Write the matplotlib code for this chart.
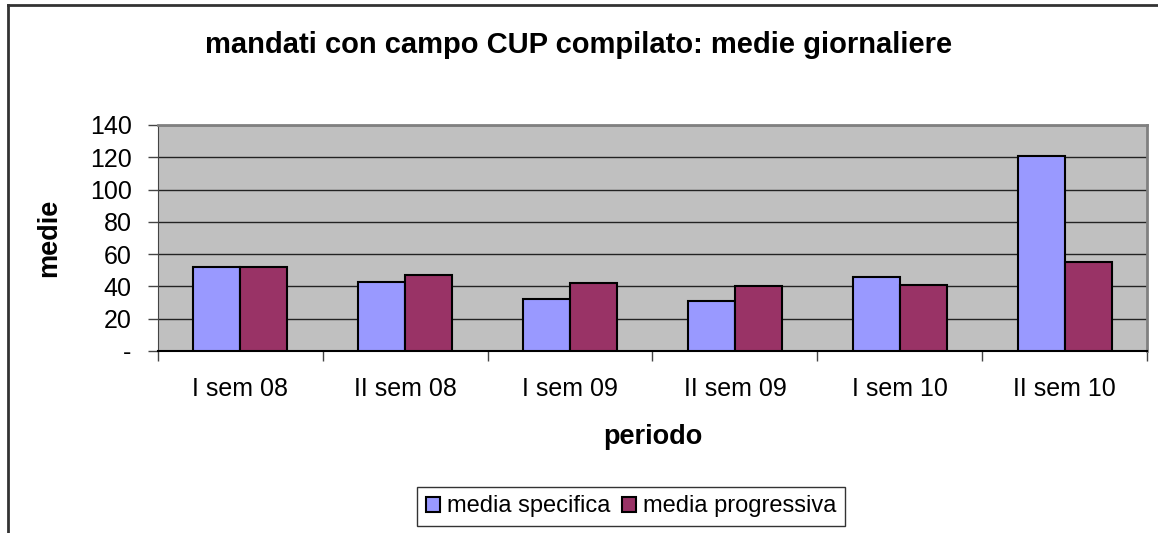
import numpy as np
import matplotlib.pyplot as plt
from matplotlib.lines import Line2D

plt.rcParams['font.family'] = ['Liberation Sans', 'DejaVu Sans']

# data
periodi = ['I sem 08', 'II sem 08', 'I sem 09', 'II sem 09', 'I sem 10', 'II sem 10']
media_specifica = [52, 43, 32, 31, 46, 121]
media_progressiva = [52, 47, 42, 40, 41, 55]
y_ticks = [0, 20, 40, 60, 80, 100, 120, 140]
y_labels = ['-', '20', '40', '60', '80', '100', '120', '140']

fig = plt.figure(figsize=(11.58, 5.33), dpi=100)
ax = fig.add_axes([0.1364, 0.3415, 0.9905 - 0.1364, 0.7655 - 0.3415])

x = np.arange(len(periodi))
w = 0.285
ax.bar(x - w / 2, media_specifica, w, color='#9999FF', edgecolor='black', linewidth=1.5,
       label='media specifica', zorder=3)
ax.bar(x + w / 2, media_progressiva, w, color='#993366', edgecolor='black', linewidth=1.5,
       label='media progressiva', zorder=3)

ax.set_facecolor('#C0C0C0')
ax.set_xlim(-0.5, len(periodi) - 0.5)
ax.set_ylim(0, 140)
ax.set_yticks(y_ticks)
ax.set_yticklabels(y_labels, fontsize=18)
ax.yaxis.grid(True, color='#222222', linewidth=1, zorder=1)
ax.set_axisbelow(True)

ax.set_xticks(x)
ax.set_xticklabels(periodi, fontsize=18)
ax.tick_params(axis='x', length=0, pad=19)
ax.set_xticks(np.arange(len(periodi) + 1) - 0.5, minor=True)
ax.tick_params(axis='x', which='minor', length=7, width=1, color='#444444')
ax.tick_params(axis='y', length=7, width=1, color='#444444', pad=12)

for s in ['top', 'right']:
    ax.spines[s].set_color('#808080')
    ax.spines[s].set_linewidth(2)
ax.spines['left'].set_color('#444444')
ax.spines['bottom'].set_color('black')
ax.spines['bottom'].set_linewidth(1.5)

ax.set_xlabel('periodo', fontsize=19.5, fontweight='bold', labelpad=16)
ax.set_ylabel('medie', fontsize=19.5, fontweight='bold', labelpad=20)

fig.text(0.5, 0.915, 'mandati con campo CUP compilato: medie giornaliere',
         ha='center', va='center', fontsize=21, fontweight='bold')

leg = fig.legend(loc='center', bbox_to_anchor=(0.545, 0.05), ncol=2, fontsize=17,
                 frameon=True, fancybox=False, edgecolor='black', handlelength=0.6,
                 handleheight=0.6, handletextpad=0.3, columnspacing=0.5,
                 borderpad=0.35)
leg.get_frame().set_linewidth(1)

# outer chart border (top and left visible)
fig.add_artist(Line2D([8 / 1158, 1], [1 - 5 / 533, 1 - 5 / 533], color='#333333', lw=2,
                      transform=fig.transFigure))
fig.add_artist(Line2D([8 / 1158, 8 / 1158], [0, 1 - 5 / 533], color='#333333', lw=2,
                      transform=fig.transFigure))

fig.savefig('out.png', dpi=100)
